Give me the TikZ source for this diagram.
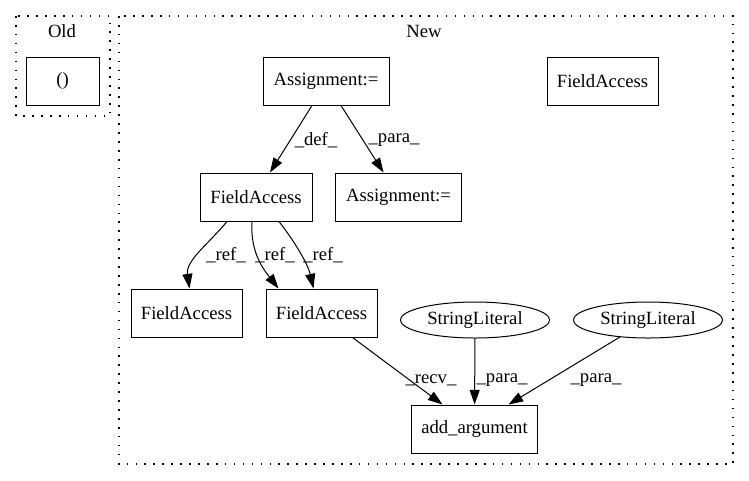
\documentclass[tikz,border=0pt]{standalone}
\usepackage{fontspec}
\setmainfont{Liberation Serif}
\usetikzlibrary{arrows.meta,shapes.geometric,calc}
\tikzset{
  box/.style={draw, line width=0.75pt, rectangle, inner sep=0pt, minimum height=36pt, font=\fontsize{14}{16}\selectfont},
  oval/.style={draw, line width=0.75pt, ellipse, inner sep=0pt, minimum width=112pt, minimum height=27pt, font=\fontsize{14}{16}\selectfont},
  lbl/.style={inner sep=0pt, font=\fontsize{14}{16}\selectfont},
  edge/.style={draw, line width=0.75pt, -{Triangle[length=11pt,width=7.5pt]}},
  cluster/.style={draw, line width=1.1pt, dash pattern=on 1.2pt off 5.5pt},
}
\begin{document}
\begin{tikzpicture}[x=0.75pt,y=-0.75pt]
\useasboundingbox (0,0) rectangle (749,480);
% clusters
\draw[cluster] (16,16) rectangle (110,116);
\node[lbl] (oldlbl) at (62,31) {Old};
\draw[cluster] (119,16) rectangle (733,464);
\node[lbl] (newlbl) at (424,31) {New};
% nodes
\node[box, minimum width=54.75pt] (old) at (62.5,81) {()};
\node[box, minimum width=94.5pt] (a1) at (326,81) {Assignment:=};
\node[box, minimum width=83.25pt] (fatr) at (602.5,81) {FieldAccess};
\node[box, minimum width=84pt] (fa1) at (256,197) {FieldAccess};
\node[box, minimum width=95pt] (a2) at (398.5,197) {Assignment:=};
\node[box, minimum width=83.25pt] (fab1) at (186.5,313) {FieldAccess};
\node[box, minimum width=83.25pt] (fab2) at (321.5,313) {FieldAccess};
\node[oval] (sl1) at (475,320) {StringLiteral};
\node[oval] (sl2) at (648,320) {StringLiteral};
\node[box, minimum width=95pt] (add) at (474.5,429) {add\_argument};
% edges
\draw[edge] ($(a1.south)+(-14,0)$) -- ($(fa1.north)+(14,0)$);
\node[lbl] (l1) at (316,140) {\_def\_};
\draw[edge] ($(a1.south)+(15,0)$) -- ($(a2.north)+(-15,0)$);
\node[lbl] (l2) at (394,140) {\_para\_};
\draw[edge] ($(fa1.south)+(-29,0)$) .. controls +(-18,22) and +(-4,-28) .. ($(fab1.north)+(3,0)$);
\node[lbl] (l3) at (226,255) {\_ref\_};
\draw[edge] ($(fa1.south)+(-4,0)$) .. controls +(-2,32) and +(-14,-18) .. ($(fab2.north)+(-43,0)$);
\node[lbl] (l4) at (275,255) {\_ref\_};
\draw[edge] ($(fa1.south)+(23,0)$) .. controls +(14,18) and +(-6,-26) .. ($(fab2.north)+(-8,0)$);
\node[lbl] (l5) at (323,255) {\_ref\_};
\draw[edge] ($(fab2.south)+(31,0)$) -- ($(add.north)+(-32,0)$);
\node[lbl] (l6) at (431,380) {\_recv\_};
\draw[edge] (sl1) -- (add);
\node[lbl] (l7) at (502,380) {\_para\_};
\draw[edge] (sl2) -- ($(add.north)+(34,0)$);
\node[lbl] (l8) at (596,380) {\_para\_};
\end{tikzpicture}
\end{document}
